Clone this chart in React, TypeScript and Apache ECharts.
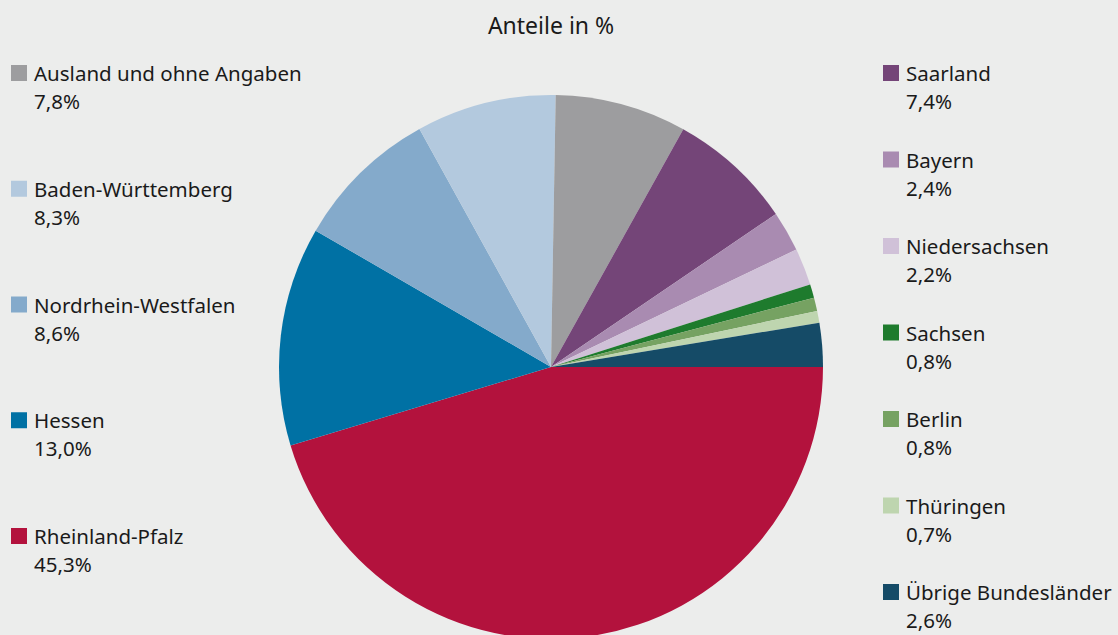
import React, { useEffect, useRef } from "react";
import * as echarts from "echarts";

const categories = [
  "Rheinland-Pfalz",
  "Hessen",
  "Nordrhein-Westfalen",
  "Baden-Württemberg",
  "Ausland und ohne Angaben",
  "Saarland",
  "Bayern",
  "Niedersachsen",
  "Sachsen",
  "Berlin",
  "Thüringen",
  "Übrige Bundesländer",
];
const shares = [45.3, 13.0, 8.6, 8.3, 7.8, 7.4, 2.4, 2.2, 0.8, 0.8, 0.7, 2.6];
const colors = [
  "#b3123d",
  "#0071a4",
  "#84aacb",
  "#b3c9de",
  "#9d9d9f",
  "#744578",
  "#a98bb1",
  "#d0c1d8",
  "#1e7b2d",
  "#76a262",
  "#bed5af",
  "#154b67",
];
const leftLegend = [
  "Ausland und ohne Angaben",
  "Baden-Württemberg",
  "Nordrhein-Westfalen",
  "Hessen",
  "Rheinland-Pfalz",
];
const rightLegend = [
  "Saarland",
  "Bayern",
  "Niedersachsen",
  "Sachsen",
  "Berlin",
  "Thüringen",
  "Übrige Bundesländer",
];
const title = "Anteile in %";

const fmt = (v: number) => v.toFixed(1).replace(".", ",") + "%";

export default function App() {
  const ref = useRef<HTMLDivElement>(null);
  useEffect(() => {
    if (!ref.current) return;
    const chart = echarts.init(ref.current, undefined, { renderer: "svg" });
    const font = "'Noto Sans', sans-serif";
    const legendFormatter = (name: string) => {
      const i = categories.indexOf(name);
      return " \n" + name + "\n" + fmt(shares[i]);
    };
    const legendBase = {
      orient: "vertical",
      icon: "rect",
      itemWidth: 16,
      itemHeight: 16,
      padding: 0,
      height: 635,
      formatter: legendFormatter,
      selectedMode: false,
      textStyle: {
        fontFamily: font,
        fontSize: 20.5,
        color: "#1a1a1a",
        lineHeight: 28,
        padding: [0, 0, 0, 2],
      },
    };
    chart.setOption({
      animation: false,
      backgroundColor: "#ecedec",
      title: {
        text: title,
        left: 551,
        textAlign: "center",
        top: 13,
        padding: 0,
        textStyle: {
          fontFamily: font,
          fontSize: 23,
          fontWeight: "normal",
          color: "#1a1a1a",
        },
      },
      legend: [
        { ...legendBase, left: 11, top: 31, itemGap: 31.75, data: leftLegend },
        { ...legendBase, left: 883, top: 31, itemGap: 2.5, data: rightLegend },
      ],
      series: [
        {
          type: "pie",
          center: [551, 367],
          radius: 272,
          startAngle: 0,
          clockwise: true,
          label: { show: false },
          labelLine: { show: false },
          emphasis: { disabled: true },
          itemStyle: { borderWidth: 0 },
          data: categories.map((c, i) => ({
            name: c,
            value: shares[i],
            itemStyle: { color: colors[i] },
          })),
        },
      ],
    });
    return () => chart.dispose();
  }, []);
  return <div ref={ref} style={{ width: 1118, height: 635, position: "absolute", left: 0, top: 0 }} />;
}
